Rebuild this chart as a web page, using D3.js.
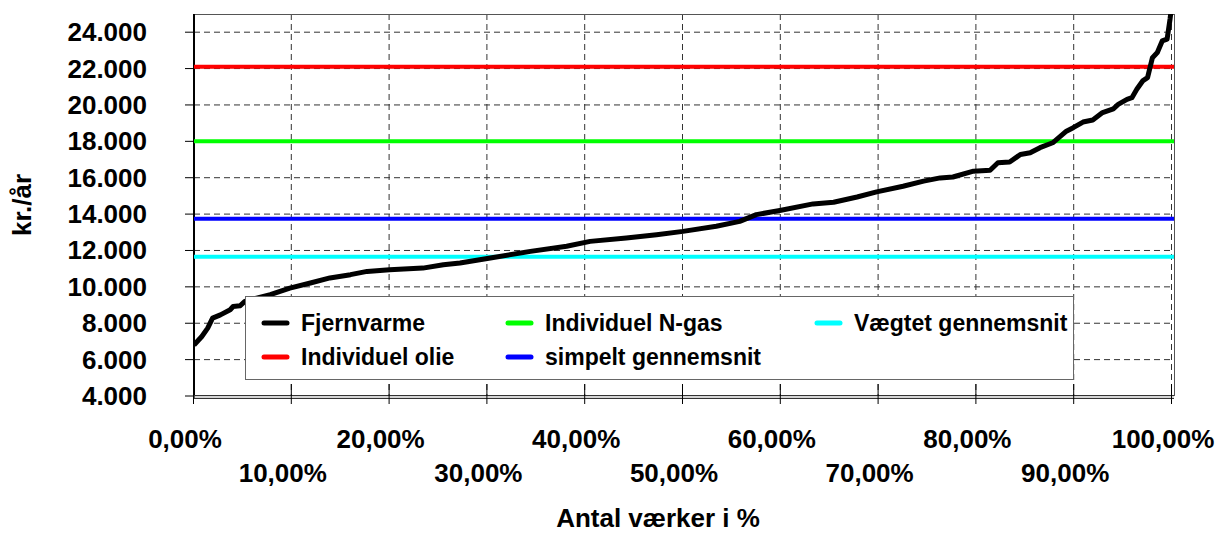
<!DOCTYPE html>
<html>
<head>
<meta charset="utf-8">
<script src="https://cdn.jsdelivr.net/npm/d3@7"></script>
<style>
  body { margin: 0; background: #fff; }
  text { font-family: "Liberation Sans", Arial, sans-serif; font-weight: bold; fill: #000; }
</style>
</head>
<body>
<script>
// andel af værker (%) og fjernvarmepris (kr./år), aflæst
const pct = [0, 0.8, 1.4, 1.9, 2.7, 3.7, 4.0, 4.7, 5.2, 6.4, 7.8, 9.8, 11.9, 13.9, 16.0, 17.7, 20.0, 23.4, 25.5, 27.2,
  30.3, 34.4, 38.1, 40.5, 44.2, 47.3, 50.0, 53.4, 55.8, 57.5, 59.9, 63.3, 65.4, 67.8, 69.8, 72.5, 74.6, 76.3, 77.6, 79.7,
  81.4, 82.2, 83.4, 84.5, 85.5, 86.5, 87.8, 89.2, 89.9, 90.9, 91.9, 92.9, 94.0, 94.5, 95.4, 95.9, 96.4, 97.0, 97.5, 98.0,
  98.5, 99.0, 99.5, 99.8, 100];
const fjernvarme = [6800, 7270, 7730, 8280, 8460, 8740, 8920, 8960, 9200, 9380, 9570, 9930, 10210, 10490, 10670, 10850, 10940, 11030, 11220, 11310,
  11590, 11950, 12230, 12500, 12690, 12870, 13050, 13330, 13600, 13970, 14200, 14560, 14650, 14940, 15220, 15530, 15810, 15990, 16040, 16360,
  16410, 16820, 16860, 17280, 17370, 17650, 17920, 18560, 18750, 19060, 19170, 19580, 19790, 20030, 20310, 20400, 20860, 21320, 21500, 22600,
  22880, 23520, 23620, 24720, 25600];

// vandrette sammenligningsniveauer
const levelNames = ['Individuel olie', 'Individuel N-gas', 'simpelt gennemsnit', 'Vægtet gennemsnit'];
const levelValues = [22100, 18000, 13750, 11650];
const levelColors = ['#ff0000', '#00ff00', '#0000ff', '#00ffff'];

const yTicks = [4000, 6000, 8000, 10000, 12000, 14000, 16000, 18000, 20000, 22000, 24000];
const xTicks = [0, 10, 20, 30, 40, 50, 60, 70, 80, 90, 100];

const width = 1218;
const height = 535;
const plotL = 194, plotR = 1172, plotT = 14, plotB = 396;

const dk = d3.formatLocale({decimal: ',', thousands: '.', grouping: [3], currency: ['', ' kr.']});
const fmtY = dk.format(',.0f');
const fmtX = d => dk.format('.2f')(d) + '%';

const x = d3.scaleLinear().domain([0, 100]).range([plotL, plotR]);
const y = d3.scaleLinear().domain([4000, 25000]).range([plotB, plotT]);

const svg = d3.select('body').append('svg')
    .attr('width', width)
    .attr('height', height);

svg.append('defs').append('clipPath').attr('id', 'clip')
  .append('rect')
    .attr('x', plotL).attr('y', plotT)
    .attr('width', plotR - plotL + 2).attr('height', plotB - plotT);

// gitter
svg.append('g').selectAll('line')
    .data(yTicks.slice(1))
  .enter().append('line')
    .attr('x1', plotL).attr('x2', plotR)
    .attr('y1', d => y(d)).attr('y2', d => y(d))
    .attr('stroke', '#333').attr('stroke-dasharray', '6,4');

svg.append('g').selectAll('line')
    .data(xTicks.slice(1))
  .enter().append('line')
    .attr('x1', d => x(d) - 0.5).attr('x2', d => x(d) - 0.5)
    .attr('y1', plotT).attr('y2', plotB)
    .attr('stroke', '#333').attr('stroke-dasharray', '6,4');

// ramme
svg.append('line').attr('x1', plotL).attr('x2', plotR + 2).attr('y1', plotT + 0.5).attr('y2', plotT + 0.5).attr('stroke', '#555');
svg.append('line').attr('x1', plotR + 2.5).attr('x2', plotR + 2.5).attr('y1', plotT).attr('y2', plotB).attr('stroke', '#555');

// y-akse
svg.append('line').attr('x1', plotL).attr('x2', plotL).attr('y1', plotT).attr('y2', plotB + 3)
    .attr('stroke', '#000').attr('stroke-width', 2);
svg.append('g').selectAll('line')
    .data(yTicks)
  .enter().append('line')
    .attr('x1', plotL - 9).attr('x2', plotL)
    .attr('y1', d => y(d)).attr('y2', d => y(d))
    .attr('stroke', '#000');
svg.append('g').selectAll('text')
    .data(yTicks)
  .enter().append('text')
    .attr('x', 147).attr('y', d => y(d) + 9)
    .attr('text-anchor', 'end')
    .style('font-size', '26px')
    .text(fmtY);

// x-akse
svg.append('line').attr('x1', plotL).attr('x2', plotR + 2).attr('y1', plotB - 0.5).attr('y2', plotB - 0.5).attr('stroke', '#333');
svg.append('line').attr('x1', plotL).attr('x2', plotR + 2).attr('y1', plotB + 2.5).attr('y2', plotB + 2.5).attr('stroke', '#333');
svg.append('line').attr('x1', plotL).attr('x2', plotR + 2).attr('y1', plotB + 1).attr('y2', plotB + 1).attr('stroke', '#aaa');
svg.append('g').selectAll('line')
    .data(xTicks)
  .enter().append('line')
    .attr('x1', d => x(d) - 0.5).attr('x2', d => x(d) - 0.5)
    .attr('y1', plotB - 12).attr('y2', plotB + 8)
    .attr('stroke', '#000');
svg.append('g').selectAll('text')
    .data(xTicks)
  .enter().append('text')
    .attr('x', d => x(d) - 9)
    .attr('y', (d, i) => i % 2 === 0 ? 448 : 482)
    .attr('text-anchor', 'middle')
    .style('font-size', '26px')
    .text(fmtX);

// aksetitler
svg.append('text')
    .attr('x', 658).attr('y', 527)
    .attr('text-anchor', 'middle')
    .style('font-size', '26px')
    .text('Antal værker i %');
svg.append('text')
    .attr('transform', `translate(31, ${(plotT + plotB) / 2}) rotate(-90)`)
    .attr('text-anchor', 'middle')
    .style('font-size', '26px')
    .text('kr./år');

// niveaulinjer
const plot = svg.append('g').attr('clip-path', 'url(#clip)');
plot.selectAll('line.level')
    .data(levelValues)
  .enter().append('line')
    .attr('class', 'level')
    .attr('x1', x(0)).attr('x2', x(100) + 2)
    .attr('y1', d => y(d)).attr('y2', d => y(d))
    .attr('stroke', (d, i) => levelColors[i])
    .attr('stroke-width', 4);

// fjernvarme
const line = d3.line()
    .x((d, i) => x(pct[i]))
    .y(d => y(d));
plot.append('path')
    .datum(fjernvarme)
    .attr('fill', 'none')
    .attr('stroke', '#000')
    .attr('stroke-width', 5)
    .attr('stroke-linejoin', 'round')
    .attr('d', line);

// forklaring
const legendItems = [{name: 'Fjernvarme', color: '#000'}]
  .concat(levelNames.map((n, i) => ({name: n, color: levelColors[i]})));
const colX = [264, 508, 817];
const rowY = [323, 357];

const legend = svg.append('g');
legend.append('rect')
    .attr('x', 245.5).attr('y', 296.5)
    .attr('width', 828).attr('height', 83)
    .attr('fill', '#fff')
    .attr('stroke', '#666');

const item = legend.selectAll('g')
    .data(legendItems)
  .enter().append('g')
    .attr('transform', (d, i) => `translate(${colX[Math.floor(i / 2)]}, ${rowY[i % 2]})`);
item.append('line')
    .attr('x1', 0).attr('x2', 23)
    .attr('stroke', d => d.color)
    .attr('stroke-width', 5)
    .attr('stroke-linecap', 'round');
item.append('text')
    .attr('x', 37).attr('y', 8)
    .style('font-size', '23px')
    .text(d => d.name);
</script>
</body>
</html>
